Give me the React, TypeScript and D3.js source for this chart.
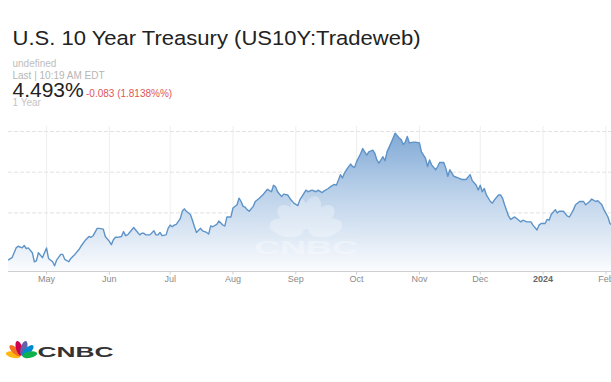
import React from "react";
import * as d3 from "d3";

const dates = [
  "2023-04-12","2023-04-14","2023-04-16","2023-04-17","2023-04-19","2023-04-20","2023-04-21","2023-04-22","2023-04-24","2023-04-25","2023-04-26","2023-04-27","2023-04-29",
  "2023-05-01","2023-05-02","2023-05-04","2023-05-05","2023-05-06","2023-05-08","2023-05-09","2023-05-10","2023-05-12","2023-05-13","2023-05-15","2023-05-17","2023-05-18","2023-05-20","2023-05-22","2023-05-23","2023-05-24","2023-05-26","2023-05-27","2023-05-29","2023-05-30",
  "2023-06-01","2023-06-02","2023-06-03","2023-06-04","2023-06-05","2023-06-07","2023-06-08","2023-06-09","2023-06-10","2023-06-11","2023-06-13","2023-06-14","2023-06-16","2023-06-17","2023-06-18","2023-06-19","2023-06-21","2023-06-23","2023-06-24","2023-06-25","2023-06-26","2023-06-27","2023-06-29","2023-06-30",
  "2023-07-01","2023-07-02","2023-07-03","2023-07-04","2023-07-06","2023-07-07","2023-07-08","2023-07-09","2023-07-11","2023-07-12","2023-07-13","2023-07-14","2023-07-16","2023-07-17","2023-07-19","2023-07-20","2023-07-21","2023-07-22","2023-07-24","2023-07-25","2023-07-27","2023-07-28","2023-07-29","2023-07-31",
  "2023-08-01","2023-08-03","2023-08-04","2023-08-05","2023-08-06","2023-08-07","2023-08-08","2023-08-09","2023-08-11","2023-08-12","2023-08-14","2023-08-16","2023-08-17","2023-08-18","2023-08-20","2023-08-21","2023-08-22","2023-08-23","2023-08-25","2023-08-26","2023-08-28","2023-08-29","2023-08-31",
  "2023-09-02","2023-09-03","2023-09-05","2023-09-06","2023-09-07","2023-09-09","2023-09-11","2023-09-12","2023-09-14","2023-09-15","2023-09-17","2023-09-18","2023-09-20","2023-09-21","2023-09-22","2023-09-23","2023-09-24","2023-09-25","2023-09-26","2023-09-28","2023-09-29","2023-09-30",
  "2023-10-01","2023-10-03","2023-10-04","2023-10-05","2023-10-06","2023-10-07","2023-10-09","2023-10-10","2023-10-11","2023-10-12","2023-10-14","2023-10-15","2023-10-16","2023-10-18","2023-10-19","2023-10-20","2023-10-22","2023-10-23","2023-10-24","2023-10-25","2023-10-26","2023-10-27","2023-10-29","2023-10-30",
  "2023-11-01","2023-11-02","2023-11-04","2023-11-05","2023-11-06","2023-11-07","2023-11-09","2023-11-10","2023-11-11","2023-11-13","2023-11-14","2023-11-15","2023-11-16","2023-11-18","2023-11-20","2023-11-22","2023-11-24","2023-11-26","2023-11-27","2023-11-29","2023-11-30",
  "2023-12-01","2023-12-02","2023-12-03","2023-12-04","2023-12-06","2023-12-07","2023-12-08","2023-12-10","2023-12-11","2023-12-12","2023-12-13","2023-12-15","2023-12-16","2023-12-18","2023-12-20","2023-12-21","2023-12-22","2023-12-24","2023-12-26","2023-12-27","2023-12-29","2023-12-30","2023-12-31",
  "2024-01-02","2024-01-03","2024-01-04","2024-01-05","2024-01-07","2024-01-08","2024-01-09","2024-01-11","2024-01-13","2024-01-14","2024-01-16","2024-01-17","2024-01-19","2024-01-21","2024-01-22","2024-01-24","2024-01-25","2024-01-27","2024-01-28","2024-01-30","2024-01-31",
  "2024-02-02","2024-02-03","2024-02-04",
];

const yields = [
  3.42,3.45,3.57,3.59,3.57,3.60,3.56,3.57,3.51,3.40,3.41,3.51,3.45,
  3.57,3.44,3.40,3.35,3.42,3.49,3.49,3.43,3.40,3.44,3.49,3.55,3.59,3.66,3.71,3.70,3.72,3.81,3.81,3.80,3.71,
  3.65,3.61,3.67,3.70,3.70,3.71,3.77,3.72,3.73,3.76,3.82,3.79,3.73,3.75,3.75,3.73,3.73,3.78,3.73,3.73,3.76,3.72,3.73,3.81,
  3.85,3.83,3.85,3.86,3.93,4.02,4.05,4.02,3.98,3.91,3.83,3.76,3.81,3.78,3.76,3.74,3.84,3.83,3.86,3.90,3.85,3.84,3.95,3.95,
  4.06,4.10,4.18,4.14,4.08,4.07,4.04,4.02,4.08,4.14,4.18,4.23,4.26,4.29,4.26,4.34,4.32,4.26,4.20,4.23,4.22,4.18,4.12,
  4.09,4.16,4.24,4.28,4.26,4.28,4.26,4.28,4.25,4.27,4.30,4.32,4.35,4.34,4.40,4.47,4.43,4.49,4.53,4.60,4.57,4.56,
  4.63,4.73,4.79,4.75,4.71,4.75,4.77,4.73,4.65,4.61,4.69,4.64,4.75,4.86,4.92,4.98,4.92,4.90,4.84,4.87,4.94,4.86,4.87,4.87,
  4.86,4.75,4.67,4.57,4.65,4.59,4.53,4.57,4.62,4.62,4.55,4.45,4.53,4.45,4.43,4.41,4.41,4.47,4.40,4.34,4.28,
  4.34,4.26,4.30,4.22,4.14,4.12,4.16,4.22,4.22,4.18,4.10,3.96,3.92,3.95,3.91,3.89,3.91,3.89,3.89,3.85,3.79,3.85,3.87,
  3.87,3.92,3.91,3.98,4.04,4.00,4.02,4.02,3.96,3.95,4.04,4.10,4.14,4.14,4.10,4.14,4.17,4.14,4.15,4.10,4.04,
  3.95,3.87,3.85,
];

const xDomain = ["2023-04-12", "2024-02-04"];
const yDomain = [3.28, 5.0];
const gridValues = [4.0, 4.5, 5.0];
const tickDates = ["2023-05-01","2023-06-01","2023-07-01","2023-08-01","2023-09-01","2023-10-01","2023-11-01","2023-12-01","2024-01-01","2024-02-01"];
const tickLabels = ["May","Jun","Jul","Aug","Sep","Oct","Nov","Dec","2024","Feb"];

const title = "U.S. 10 Year Treasury (US10Y:Tradeweb)";
const lastPrice = "4.493%";
const change = "-0.083 (1.8138%%)";

const FONT = "'Liberation Sans', Arial, Helvetica, sans-serif";

export default function App() {
  const parse = d3.timeParse("%Y-%m-%d");
  const data = dates.map((d, i) => ({ date: parse(d) as Date, value: yields[i] }));

  const left = 8, right = 612, top = 126, bottom = 271.5;
  const x = d3.scaleTime().domain(xDomain.map((d) => parse(d) as Date)).range([left, right]);
  const y = d3.scaleLinear().domain(yDomain).range([bottom, 131.5]);

  const line = d3.line<{ date: Date; value: number }>()
    .x((d) => x(d.date)).y((d) => y(d.value)).curve(d3.curveLinear);
  const area = d3.area<{ date: Date; value: number }>()
    .x((d) => x(d.date)).y0(bottom).y1((d) => y(d.value)).curve(d3.curveLinear);

  const feathers = [
    { c: "#fcb711", a: -78 },
    { c: "#f37021", a: -47 },
    { c: "#cc004c", a: -16 },
    { c: "#6460aa", a: 16 },
    { c: "#0089d0", a: 47 },
    { c: "#0db14b", a: 78 },
  ];

  return (
    <svg
      width={611}
      height={382}
      style={{ position: "absolute", left: 0, top: 0, background: "#fff" }}
      fontFamily={FONT}
    >
      <defs>
        <linearGradient id="fillGrad" gradientUnits="userSpaceOnUse" x1="0" y1="131" x2="0" y2={bottom}>
          <stop offset="0%" stopColor="#7fa8d5" />
          <stop offset="45%" stopColor="#bcd2ea" />
          <stop offset="100%" stopColor="#fbfcfe" />
        </linearGradient>
        <clipPath id="plotClip">
          <rect x={left} y={top - 5} width={611 - left} height={bottom - top + 5} />
        </clipPath>
      </defs>

      <text x={12.5} y={45} fontSize={20.5} fill="#222" textLength={408} lengthAdjust="spacingAndGlyphs">{title}</text>
      <text x={12.5} y={66.5} fontSize={10} fill="#bdbdbd">undefined</text>
      <text x={12.5} y={78.5} fontSize={10} fill="#b5b5b5">Last | 10:19 AM EDT</text>
      <text x={12.5} y={97} fontSize={21} fill="#222">{lastPrice}</text>
      <text x={86} y={97} fontSize={10} fill="#e05555">{change}</text>
      <text x={12.5} y={105.5} fontSize={10} fill="#c4c4c4">1 Year</text>

      {/* vertical gridlines */}
      {tickDates.map((t) => (
        <line key={"v" + t} x1={x(parse(t) as Date)} x2={x(parse(t) as Date)} y1={top} y2={bottom} stroke="#eeeeee" strokeWidth={1} />
      ))}
      {/* horizontal gridlines */}
      {gridValues.map((v) => (
        <line key={"h" + v} x1={left} x2={611} y1={y(v)} y2={y(v)} stroke="#e2e2e2" strokeWidth={1} strokeDasharray="4,2" />
      ))}

      <g clipPath="url(#plotClip)">
        <path d={area(data) ?? ""} fill="url(#fillGrad)" />
        {/* watermark */}
        <g opacity={0.3} fill="#ffffff">
          {feathers.map((f, i) => (
            <ellipse key={i} cx={0} cy={-20} rx={9} ry={17}
              transform={`translate(306,232) rotate(${f.a})`} />
          ))}
          <text x={254} y={254} fontSize={19} fontWeight={900} textLength={104} lengthAdjust="spacingAndGlyphs">CNBC</text>
        </g>
        <path d={line(data) ?? ""} fill="none" stroke="#5e93c8" strokeWidth={1.4} strokeLinejoin="round" />
      </g>

      {/* x axis */}
      <line x1={left} x2={611} y1={bottom} y2={bottom} stroke="#cfcfcf" strokeWidth={1} />
      {tickDates.map((t, i) => {
        const px = x(parse(t) as Date);
        const isYear = tickLabels[i] === "2024";
        return (
          <g key={"t" + t}>
            <line x1={px} x2={px} y1={bottom} y2={bottom + 3} stroke="#cfcfcf" />
            <text x={px} y={281.5} fontSize={9} textAnchor="middle"
              fill={isYear ? "#666" : "#8a8a8a"} fontWeight={isYear ? "bold" : "normal"}>
              {tickLabels[i]}
            </text>
          </g>
        );
      })}

      {/* CNBC logo */}
      <g>
        {feathers.map((f, i) => (
          <ellipse key={i} cx={0} cy={-8.5} rx={3.2} ry={7.5} fill={f.c}
            transform={`translate(21.5,356.5) rotate(${f.a})`} />
        ))}
        <text x={37.5} y={356.5} fontSize={15.5} fontWeight={900} fill="#333" textLength={76} lengthAdjust="spacingAndGlyphs">CNBC</text>
      </g>
    </svg>
  );
}
